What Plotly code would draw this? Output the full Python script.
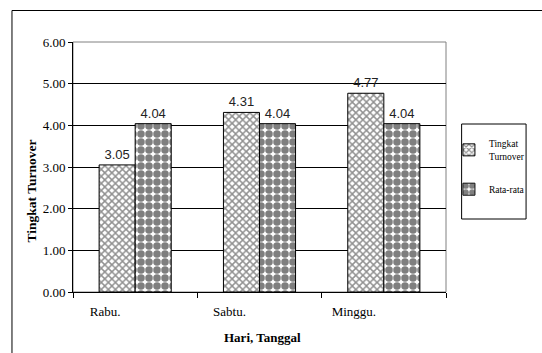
import plotly.graph_objects as go

categories = ["Rabu.", "Sabtu.", "Minggu."]
turnover = [3.05, 4.31, 4.77]
rata_rata = [4.04, 4.04, 4.04]
y_ticks = [0, 1, 2, 3, 4, 5, 6]

W, H = 542, 353
L, R, T, B = 73, 87, 42, 61
pw, ph = W - L - R, H - T - B

def px(x):
    return (x - L) / pw

def py(y):
    return (H - B - y) / ph

serif = "Times New Roman"
sans = "Arial"

fig = go.Figure()
fig.add_trace(go.Bar(
    x=categories, y=turnover, name="Tingkat<br>Turnover",
    marker=dict(color="white", line=dict(color="black", width=1),
                pattern=dict(shape="x", fgcolor="#222222", bgcolor="white", size=5, solidity=0.5)),
    texttemplate="%{y:.2f}", textposition="outside",
    textfont=dict(family=sans, size=13, color="#222222"),
    legendgroup="a", cliponaxis=False,
))
fig.add_trace(go.Bar(
    x=categories, y=rata_rata, name="Rata-rata",
    marker=dict(color="white", line=dict(color="black", width=1),
                pattern=dict(shape=".", fgcolor="black", bgcolor="white", size=8, solidity=0.7)),
    texttemplate="%{y:.2f}", textposition="outside",
    textfont=dict(family=sans, size=13, color="#222222"),
    legendgroup="b", cliponaxis=False,
))

fig.update_layout(
    width=W, height=H,
    margin=dict(l=L, r=R, t=T, b=B),
    paper_bgcolor="white", plot_bgcolor="white",
    barmode="group", bargap=0.42, bargroupgap=0,
    showlegend=True,
    legend=dict(x=px(458), y=py(131), xanchor="left", yanchor="top",
                font=dict(family=serif, size=9.5, color="black"),
                bgcolor="rgba(0,0,0,0)", borderwidth=0,
                traceorder="grouped", tracegroupgap=16, itemwidth=30),
    xaxis=dict(type="category", showline=True, linecolor="black", linewidth=1,
               ticks="outside", tickson="boundaries", ticklen=5, tickcolor="black",
               tickfont=dict(family=serif, size=13, color="black"),
               ticklabelshift=-30, ticklabelstandoff=7,
               showgrid=False, zeroline=False),
    yaxis=dict(range=[0, 6], tickvals=y_ticks, tickformat=".2f",
               showline=True, linecolor="black", linewidth=1,
               ticks="outside", ticklen=4, tickcolor="black",
               tickfont=dict(family=serif, size=13, color="black"),
               showgrid=True, gridcolor="black", gridwidth=1, zeroline=False),
    shapes=[
        dict(type="rect", xref="paper", yref="paper", x0=0, x1=1, y0=0, y1=1,
             line=dict(color="#808080", width=1), layer="below"),
        dict(type="rect", xref="paper", yref="paper", x0=px(10.5), x1=px(560), y0=py(370), y1=py(10.5),
             line=dict(color="black", width=1), layer="below"),
        dict(type="rect", xref="paper", yref="paper", x0=px(471), x1=px(537), y0=py(219), y1=py(124),
             line=dict(color="black", width=1), layer="below"),
    ],
    annotations=[
        dict(text="<b>Tingkat Turnover</b>", xref="paper", yref="paper", x=px(29.5), y=py(191),
             xanchor="center", yanchor="middle",
             textangle=-90, showarrow=False, font=dict(family=serif, size=13.5, color="black")),
        dict(text="<b>Hari, Tanggal</b>", xref="paper", yref="paper", x=px(267.5), y=py(337),
             xanchor="center", yanchor="middle",
             showarrow=False, font=dict(family=serif, size=13, color="black")),
    ],
)

fig.write_html("out.html", config={"displayModeBar": False},
               post_script="document.body.style.margin='0';document.body.style.overflow='hidden';")
